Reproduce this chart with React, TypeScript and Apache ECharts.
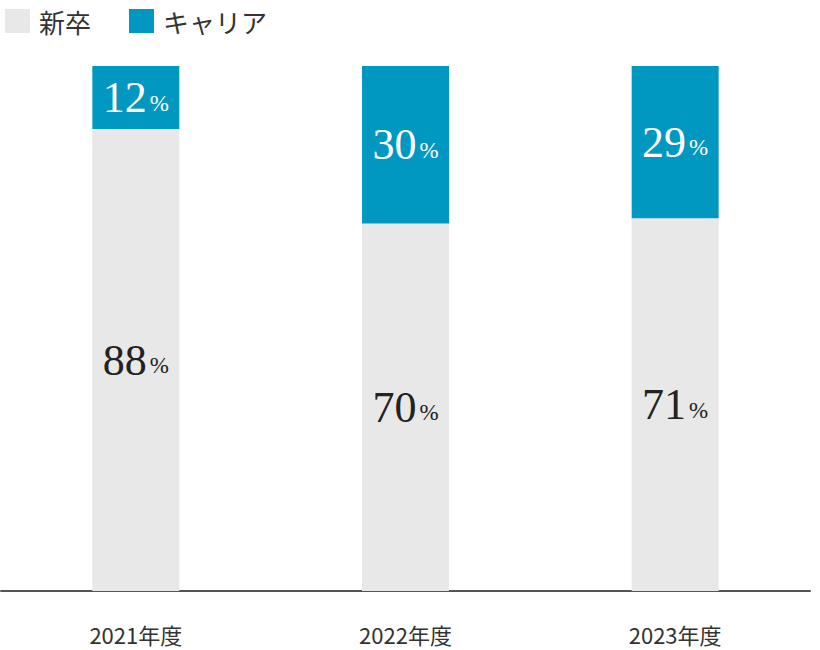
import { useEffect, useRef } from "react";
import * as echarts from "echarts";

const categories = ["2021年度", "2022年度", "2023年度"];
const newGrads = [88, 70, 71];
const career = [12, 30, 29];

const SERIF = '"Liberation Serif", "DejaVu Serif", serif';
const JP = '"Noto Sans CJK JP", sans-serif';

function pctLabel(color: string) {
  return {
    show: true,
    position: "inside" as const,
    formatter: (p: any) => `{a|${p.value}}{b|%}`,
    rich: {
      a: { fontFamily: SERIF, fontSize: 44, color, verticalAlign: "bottom" as const },
      b: {
        fontFamily: SERIF,
        fontSize: 23,
        color,
        verticalAlign: "bottom" as const,
        padding: [0, 0, 5, 3],
      },
    },
  };
}

function buildOption(): echarts.EChartsOption {
  return {
    animation: false,
    legend: {
      left: 0,
      top: 3,
      itemWidth: 25,
      itemHeight: 24,
      itemGap: 38,
      icon: "rect",
      textStyle: { fontFamily: JP, fontSize: 26, color: "#333", padding: [0, 0, 0, 4] },
      data: ["新卒", "キャリア"],
    },
    grid: { left: 1, right: 10, top: 66, bottom: 59, containLabel: false },
    xAxis: {
      type: "category",
      data: categories,
      axisLine: { lineStyle: { color: "#555", width: 2 } },
      axisTick: { show: false },
      axisLabel: { margin: 32, fontFamily: JP, fontSize: 22, lineHeight: 22, color: "#333" },
    },
    yAxis: { type: "value", min: 0, max: 100, show: false, splitLine: { show: false } },
    series: [
      {
        name: "新卒",
        type: "bar",
        stack: "total",
        barWidth: 87,
        itemStyle: { color: "#e8e8e8" },
        label: pctLabel("#222"),
        data: newGrads,
      },
      {
        name: "キャリア",
        type: "bar",
        stack: "total",
        barWidth: 87,
        itemStyle: { color: "#0097c1" },
        label: pctLabel("#fff"),
        data: career,
      },
    ],
  };
}

export default function App() {
  const ref = useRef<HTMLDivElement>(null);

  useEffect(() => {
    if (!ref.current) return;
    const chart = echarts.init(ref.current, undefined, { renderer: "svg" });
    chart.setOption(buildOption());
    return () => chart.dispose();
  }, []);

  return (
    <div
      ref={ref}
      style={{ position: "absolute", left: 0, top: 0, width: 820, height: 650, background: "#fff" }}
    />
  );
}
